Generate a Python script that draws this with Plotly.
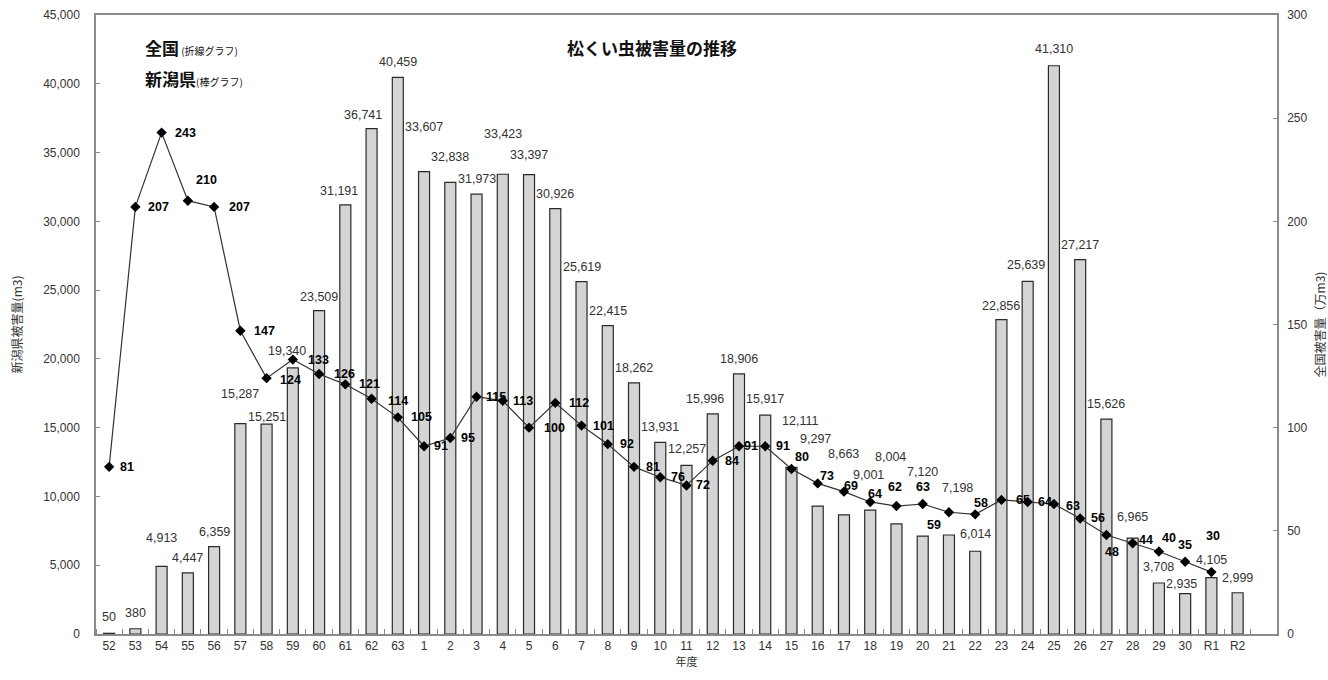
import plotly.graph_objects as go

# 年度ラベル (昭和52〜63, 平成1〜30, 令和1〜2)
years = ["52", "53", "54", "55", "56", "57", "58", "59", "60", "61", "62", "63",
         "1", "2", "3", "4", "5", "6", "7", "8", "9", "10", "11", "12", "13", "14",
         "15", "16", "17", "18", "19", "20", "21", "22", "23", "24", "25", "26",
         "27", "28", "29", "30", "R1", "R2"]

# 新潟県被害量 (m3) - 棒グラフ
niigata = [50, 380, 4913, 4447, 6359, 15287, 15251, 19340, 23509, 31191, 36741, 40459,
           33607, 32838, 31973, 33423, 33397, 30926, 25619, 22415, 18262, 13931, 12257,
           15996, 18906, 15917, 12111, 9297, 8663, 9001, 8004, 7120, 7198, 6014,
           22856, 25639, 41310, 27217, 15626, 6965, 3708, 2935, 4105, 2999]

# 全国被害量 (万m3) - 折線グラフ (R2 は未掲載)
national = [81, 207, 243, 210, 207, 147, 124, 133, 126, 121, 114, 105,
            91, 95, 115, 113, 100, 112, 101, 92, 81, 76, 72, 84, 91, 91,
            80, 73, 69, 64, 62, 63, 59, 58, 65, 64, 63, 56, 48, 44, 40, 35, 30, None]

# データラベルのずらし量 (px): (横, 上方向)
bar_label_shift = {
    0: (0, 16), 1: (0, 16), 2: (0, 28), 3: (0, 15), 4: (0, 15), 5: (0, 30),
    6: (0, 7), 7: (-6, 17), 8: (0, 14), 9: (-6, 14), 10: (-9, 14), 11: (0, 15),
    12: (0, 45), 13: (0, 25), 14: (0, 15), 15: (0, 40), 16: (0, 20), 17: (0, 15),
    18: (0, 15), 19: (0, 15), 20: (0, 15), 21: (0, 15), 22: (0, 16), 23: (-8, 15),
    24: (0, 15), 25: (0, 16), 26: (9, 46), 27: (-2, 67), 28: (0, 61), 29: (-2, 35),
    30: (-6, 67), 31: (0, 64), 32: (9, 47), 33: (0, 17), 34: (0, 14), 35: (-2, 16),
    36: (0, 17), 37: (0, 15), 38: (0, 15), 39: (0, 21), 40: (0, 16), 41: (-4, 10),
    42: (0, 18), 43: (0, 15),
}
line_label_shift = {
    0: (18, 0), 1: (23, 0), 2: (24, 0), 3: (19, 21), 4: (25, 0), 5: (24, 0),
    6: (24, -2), 7: (26, 0), 8: (25, 0), 9: (24, 0), 10: (26, -2), 11: (24, 0),
    12: (17, 0), 13: (18, 0), 14: (19, 0), 15: (20, 0), 16: (25, 0), 17: (24, 0),
    18: (22, 0), 19: (19, 0), 20: (19, 0), 21: (18, 0), 22: (16, 0), 23: (19, 0),
    24: (12, 0), 25: (18, 0), 26: (11, 12), 27: (9, 7), 28: (7, 6), 29: (5, 8),
    30: (-1, 19), 31: (0, 17), 32: (-15, -13), 33: (6, 11), 34: (22, 0), 35: (17, 0),
    36: (19, -2), 37: (18, 0), 38: (6, -17), 39: (13, 3), 40: (10, 13), 41: (0, 17),
    42: (2, 36),
}

x_idx = list(range(len(years)))
FONT = "Liberation Sans, Arial, sans-serif"
JP = "Noto Sans CJK JP, sans-serif"

fig = go.Figure()

fig.add_trace(go.Bar(
    x=x_idx, y=niigata, width=0.42,
    marker=dict(color="#d4d4d4", line=dict(color="#2a2a2a", width=1.2)),
    showlegend=False, yaxis="y", hoverinfo="x+y",
))

fig.add_trace(go.Scatter(
    x=x_idx, y=national, mode="lines+markers",
    line=dict(color="#333333", width=1.2),
    marker=dict(symbol="diamond", size=8, color="#000000"),
    cliponaxis=False, showlegend=False, yaxis="y2",
))

annotations = []
for i, v in enumerate(niigata):
    dx, dy = bar_label_shift[i]
    annotations.append(dict(
        x=i, y=v, xref="x", yref="y", text=f"{v:,}", showarrow=False,
        xanchor="center", yanchor="middle", xshift=dx, yshift=dy,
        font=dict(family=FONT, size=12.5, color="#333333"),
    ))
for i, v in enumerate(national):
    if v is None:
        continue
    dx, dy = line_label_shift[i]
    annotations.append(dict(
        x=i, y=v, xref="x", yref="y2", text=f"<b>{v}</b>", showarrow=False,
        xanchor="center", yanchor="middle", xshift=dx, yshift=dy,
        font=dict(family=FONT, size=12.5, color="#000000"),
    ))

annotations += [
    dict(text="<b>松くい虫被害量の推移</b>", xref="paper", yref="paper",
         x=0.471, y=0.948, showarrow=False, xanchor="center", yanchor="middle",
         font=dict(family=JP, size=17, color="#111111")),
    dict(text="<b>全国</b><span style='font-size:10px'> (折線グラフ)</span>",
         xref="paper", yref="paper", x=0.040, y=0.948, showarrow=False,
         xanchor="left", yanchor="middle",
         font=dict(family=JP, size=17, color="#111111")),
    dict(text="<b>新潟県</b><span style='font-size:10px'>(棒グラフ)</span>",
         xref="paper", yref="paper", x=0.040, y=0.898, showarrow=False,
         xanchor="left", yanchor="middle",
         font=dict(family=JP, size=17, color="#111111")),
]

axis_line = "#8a8a8a"
fig.update_layout(
    width=1328, height=680,
    margin=dict(l=96, r=51, t=15, b=46, autoexpand=False),
    paper_bgcolor="white", plot_bgcolor="white",
    xaxis=dict(
        range=[-0.5, 44.5], tickmode="array", tickvals=x_idx, ticktext=years,
        ticks="", showline=True, linecolor=axis_line, linewidth=1.5, mirror=True,
        showgrid=False, zeroline=False, automargin=False,
        tickfont=dict(family=FONT, size=12, color="#333333"),
        minor=dict(tickmode="linear", tick0=0.5, dtick=1, ticks="inside",
                   ticklen=5, tickcolor=axis_line, showgrid=False),
        title=dict(text="年度", font=dict(family=JP, size=11, color="#333333"), standoff=6),
    ),
    yaxis=dict(
        range=[0, 45000], dtick=5000, tickformat=",d",
        showline=True, linecolor=axis_line, linewidth=1.5,
        ticks="inside", ticklen=4, tickcolor=axis_line,
        showgrid=False, zeroline=False, ticklabelstandoff=12, automargin=False,
        tickfont=dict(family=FONT, size=12, color="#333333"),
        title=dict(text="新潟県被害量(m3)", font=dict(family=JP, size=12, color="#333333"), standoff=18),
    ),
    yaxis2=dict(
        range=[0, 300], dtick=50, overlaying="y", side="right",
        showline=True, linecolor=axis_line, linewidth=1.5,
        ticks="inside", ticklen=4, tickcolor=axis_line,
        showgrid=False, zeroline=False, ticklabelstandoff=6, automargin=False,
        tickfont=dict(family=FONT, size=12, color="#333333"),
        title=dict(text="全国被害量（万m3)", font=dict(family=JP, size=12, color="#333333"), standoff=16),
    ),
    annotations=annotations,
)

fig.write_html("out.html")
